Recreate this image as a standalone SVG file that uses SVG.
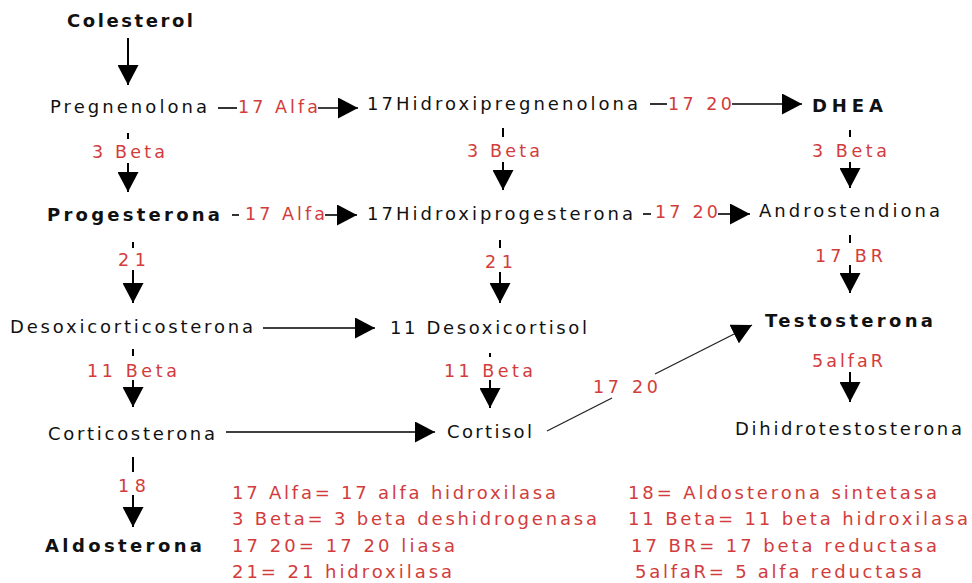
<svg xmlns="http://www.w3.org/2000/svg" width="972" height="583" viewBox="0 0 972 583">
  <style>
    .node { font-family: "DejaVu Sans", Verdana, sans-serif; font-size: 18px; fill: #111; }
    .bold { font-weight: bold; font-size: 18px; }
    .enz { font-family: "DejaVu Sans", Verdana, sans-serif; font-size: 17.5px; fill: #d23c3c; }
    .legend { font-family: "DejaVu Sans", Tahoma, sans-serif; font-size: 18px; fill: #d23c3c; }
    .edge { stroke: #000; stroke-width: 2; fill: none; }
    .thin { stroke: #000; stroke-width: 1.6; fill: none; }
    .slant { stroke: #222; stroke-width: 1.3; fill: none; }
  </style>
  <defs>
    <marker id="head" viewBox="0 0 20 21" refX="20" refY="10.5" markerWidth="20" markerHeight="21" markerUnits="userSpaceOnUse" orient="auto">
      <path d="M0,0 L20,10.5 L0,21 Z" fill="#000"/>
    </marker>
  </defs>
  <rect width="972" height="583" fill="#fff"/>

  <!-- metabolites -->
  <g id="colesterol"><text class="node bold" x="67" y="27" textLength="126" lengthAdjust="spacing">Colesterol</text></g>
  <g id="pregnenolona"><text class="node" x="50" y="113" textLength="157" lengthAdjust="spacing">Pregnenolona</text></g>
  <g id="hidroxipregnenolona"><text class="node" x="367" y="110" textLength="271" lengthAdjust="spacing">17Hidroxipregnenolona</text></g>
  <g id="dhea"><text class="node bold" x="812" y="112" textLength="71" lengthAdjust="spacing">DHEA</text></g>
  <g id="progesterona"><text class="node bold" x="47" y="221" textLength="173" lengthAdjust="spacing">Progesterona</text></g>
  <g id="hidroxiprogesterona"><text class="node" x="367" y="220" textLength="266" lengthAdjust="spacing">17Hidroxiprogesterona</text></g>
  <g id="androstendiona"><text class="node" x="759" y="217" textLength="181" lengthAdjust="spacing">Androstendiona</text></g>
  <g id="desoxicorticosterona"><text class="node" x="10" y="333" textLength="243" lengthAdjust="spacing">Desoxicorticosterona</text></g>
  <g id="desoxicortisol"><text class="node" x="390" y="334" textLength="197" lengthAdjust="spacing">11 Desoxicortisol</text></g>
  <g id="testosterona"><text class="node bold" x="765" y="327" textLength="168" lengthAdjust="spacing">Testosterona</text></g>
  <g id="corticosterona"><text class="node" x="48" y="440" textLength="167" lengthAdjust="spacing">Corticosterona</text></g>
  <g id="cortisol"><text class="node" x="447" y="438" textLength="85" lengthAdjust="spacing">Cortisol</text></g>
  <g id="dihidrotestosterona"><text class="node" x="735" y="435" textLength="227" lengthAdjust="spacing">Dihidrotestosterona</text></g>
  <g id="aldosterona"><text class="node bold" x="45" y="552" textLength="157" lengthAdjust="spacing">Aldosterona</text></g>

  <!-- reactions with enzyme labels -->
  <g id="connectors">
    <!-- left column -->
    <line class="edge" x1="128" y1="38" x2="128" y2="85" marker-end="url(#head)"/>
    <line class="edge" x1="128" y1="133" x2="128" y2="139"/>
    <text class="enz" x="92" y="158" textLength="73" lengthAdjust="spacing">3 Beta</text>
    <line class="edge" x1="128" y1="163" x2="128" y2="192" marker-end="url(#head)"/>
    <line class="edge" x1="133" y1="242" x2="133" y2="248"/>
    <text class="enz" x="118" y="266" textLength="28" lengthAdjust="spacing">21</text>
    <line class="edge" x1="133" y1="270" x2="133" y2="303" marker-end="url(#head)"/>
    <line class="edge" x1="133" y1="349" x2="133" y2="356"/>
    <text class="enz" x="87" y="377" textLength="90" lengthAdjust="spacing">11 Beta</text>
    <line class="edge" x1="133" y1="380" x2="133" y2="407" marker-end="url(#head)"/>
    <line class="edge" x1="133" y1="457" x2="133" y2="472"/>
    <text class="enz" x="118" y="492" textLength="28" lengthAdjust="spacing">18</text>
    <line class="edge" x1="133" y1="495" x2="133" y2="527" marker-end="url(#head)"/>

    <!-- middle column -->
    <line class="edge" x1="503" y1="128" x2="503" y2="137"/>
    <text class="enz" x="467" y="157" textLength="73" lengthAdjust="spacing">3 Beta</text>
    <line class="edge" x1="503" y1="162" x2="503" y2="190" marker-end="url(#head)"/>
    <line class="edge" x1="500" y1="240" x2="500" y2="248"/>
    <text class="enz" x="485" y="268" textLength="28" lengthAdjust="spacing">21</text>
    <line class="edge" x1="500" y1="272" x2="500" y2="303" marker-end="url(#head)"/>
    <line class="edge" x1="490" y1="353" x2="490" y2="357"/>
    <text class="enz" x="444" y="377" textLength="89" lengthAdjust="spacing">11 Beta</text>
    <line class="edge" x1="490" y1="380" x2="490" y2="408" marker-end="url(#head)"/>

    <!-- right column -->
    <line class="edge" x1="850" y1="130" x2="850" y2="137"/>
    <text class="enz" x="812" y="157" textLength="75" lengthAdjust="spacing">3 Beta</text>
    <line class="edge" x1="850" y1="162" x2="850" y2="188" marker-end="url(#head)"/>
    <line class="edge" x1="850" y1="235" x2="850" y2="243"/>
    <text class="enz" x="815" y="262" textLength="68" lengthAdjust="spacing">17 BR</text>
    <line class="edge" x1="850" y1="265" x2="850" y2="293" marker-end="url(#head)"/>
    <text class="enz" x="812" y="367" textLength="71" lengthAdjust="spacing">5alfaR</text>
    <line class="edge" x1="850" y1="372" x2="850" y2="402" marker-end="url(#head)"/>

    <!-- horizontal reactions -->
    <line class="thin" x1="218" y1="108" x2="237" y2="108"/>
    <text class="enz" x="238" y="113" textLength="80" lengthAdjust="spacing">17 Alfa</text>
    <line class="thin" x1="318" y1="108" x2="358" y2="108" marker-end="url(#head)"/>

    <line class="thin" x1="650" y1="104" x2="667" y2="104"/>
    <text class="enz" x="668" y="110" textLength="64" lengthAdjust="spacing">17 20</text>
    <line class="thin" x1="732" y1="104" x2="802" y2="104" marker-end="url(#head)"/>

    <line class="thin" x1="232" y1="215" x2="239" y2="215"/>
    <text class="enz" x="245" y="220" textLength="80" lengthAdjust="spacing">17 Alfa</text>
    <line class="thin" x1="325" y1="215" x2="357" y2="215" marker-end="url(#head)"/>

    <line class="thin" x1="643" y1="214" x2="651" y2="214"/>
    <text class="enz" x="655" y="218" textLength="63" lengthAdjust="spacing">17 20</text>
    <line class="thin" x1="718" y1="214" x2="750" y2="214" marker-end="url(#head)"/>

    <line class="thin" x1="263" y1="328" x2="375" y2="328" marker-end="url(#head)"/>
    <line class="thin" x1="226" y1="432" x2="435" y2="432" marker-end="url(#head)"/>

    <!-- Cortisol to Testosterona -->
    <line class="slant" x1="547" y1="431" x2="612" y2="398"/>
    <text class="enz" x="593" y="393" textLength="65" lengthAdjust="spacing">17 20</text>
    <line class="slant" x1="655" y1="374" x2="752" y2="325" marker-end="url(#head)"/>
  </g>

  <!-- enzyme key -->
  <g id="legend">
    <text class="legend" x="232" y="499" textLength="324" lengthAdjust="spacing">17 Alfa= 17 alfa hidroxilasa</text>
    <text class="legend" x="232" y="525" textLength="365" lengthAdjust="spacing">3 Beta= 3 beta deshidrogenasa</text>
    <text class="legend" x="232" y="552" textLength="223" lengthAdjust="spacing">17 20= 17 20 liasa</text>
    <text class="legend" x="232" y="578" textLength="220" lengthAdjust="spacing">21= 21 hidroxilasa</text>
    <text class="legend" x="628" y="499" textLength="309" lengthAdjust="spacing">18= Aldosterona sintetasa</text>
    <text class="legend" x="628" y="525" textLength="340" lengthAdjust="spacing">11 Beta= 11 beta hidroxilasa</text>
    <text class="legend" x="631" y="552" textLength="306" lengthAdjust="spacing">17 BR= 17 beta reductasa</text>
    <text class="legend" x="635" y="578" textLength="287" lengthAdjust="spacing">5alfaR= 5 alfa reductasa</text>
  </g>
</svg>
